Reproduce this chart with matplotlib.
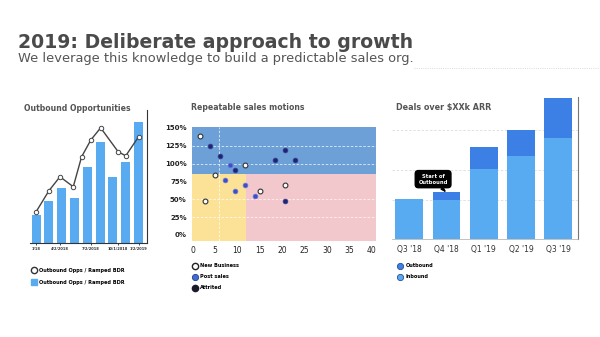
import numpy as np
import matplotlib.pyplot as plt
from matplotlib.lines import Line2D

# left panel: outbound opportunities
opp_bars = [28, 42, 55, 45, 76, 101, 66, 81, 121]
ratio_x = [0, 1, 1.86, 2.9, 3.55, 4.28, 5.04, 6.41, 7, 8]
ratio_y = [31, 52, 66, 56, 86, 103, 115, 91, 87, 106]
opp_ticks = [0, 1.86, 4.28, 6.41, 8]
opp_ticklabels = ['1/18', '4/2/2018', '7/2/2018', '10/1/2018', '1/2/2019']

# middle panel: repeatable sales motions (x, pct)
new_x = [1.7, 11.7, 5.0, 15.0, 2.8, 20.6]
new_y = [139, 98, 84, 62, 48, 70]
post_x = [8.3, 7.2, 11.7, 9.5, 13.9]
post_y = [98, 77, 70, 62, 55]
attr_x = [3.9, 6.1, 9.5, 18.4, 20.6, 22.8, 20.6]
attr_y = [125, 111, 91, 105, 119, 105, 48]
pct_ticks = [0, 25, 50, 75, 100, 125, 150]
x_ticks = [0, 5, 10, 15, 20, 25, 30, 35, 40]

# right panel: deals over $XXk ARR
quarters = ["Q3 '18", "Q4 '18", "Q1 '19", "Q2 '19", "Q3 '19"]
inbound = [40, 39, 70, 83, 101]
outbound = [0, 8, 22, 26, 40]

light = '#58abf0'
dark_blue = '#3c80e6'
txt = '#4a4a4a'

fig = plt.figure(figsize=(6, 3.37), dpi=100)
fig.patch.set_facecolor('white')

fig.text(0.03, 0.858, '2019: Deliberate approach to growth', fontsize=13.6,
         fontweight='bold', color=txt, va='baseline')
fig.text(0.03, 0.815, 'We leverage this knowledge to build a predictable sales org.',
         fontsize=9.4, color='#555555', va='baseline')
fig.add_artist(Line2D([0.69, 1.0], [0.798, 0.798], color='#cccccc', lw=0.6,
                      ls=':', transform=fig.transFigure))

# ---- left
ax1 = fig.add_axes([0.05, 0.28, 0.195, 0.394])
idx = np.arange(len(opp_bars))
ax1.bar(idx, opp_bars, width=0.7, color=light, zorder=2)
ax1.plot(ratio_x, ratio_y, color='#444444', lw=1, marker='o', ms=3.2,
         mfc='white', mec='#444444', mew=0.7, zorder=3)
ax1.set_xlim(-0.48, 8.66)
ax1.set_ylim(0, 133)
for s in ['top', 'left']:
    ax1.spines[s].set_visible(False)
ax1.spines['bottom'].set_color('#333333')
ax1.spines['right'].set_color('#333333')
ax1.set_yticks([])
ax1.set_xticks(opp_ticks)
ax1.set_xticklabels(opp_ticklabels, fontsize=2.6, fontweight='bold', color='#333333')
ax1.tick_params(axis='x', length=1.5, width=0.5, pad=1.5)
ax1.text(-0.05, 0.994, 'Outbound Opportunities', transform=ax1.transAxes,
         fontsize=5.6, fontweight='bold', color='#555555', va='baseline')
lh1 = Line2D([], [], color='none', marker='o', ms=4.5, mfc='white', mec='#333333', mew=1)
lh2 = Line2D([], [], color='none', marker='s', ms=4.5, mfc=light, mec=light)
ax1.legend([lh1, lh2], ['Outbound Opps / Ramped BDR'] * 2, loc='upper left',
           bbox_to_anchor=(0.048, 0.212), bbox_transform=fig.transFigure,
           frameon=False, prop={'size': 3.6, 'weight': 'bold'}, handlelength=1,
           handletextpad=0.6, labelspacing=1.4, borderpad=0)

# ---- middle
ax2 = fig.add_axes([0.3205, 0.2858, 0.306, 0.3365])
ax2.set_xlim(-0.05, 40.9)
ax2.set_ylim(-8, 151)
ax2.axhspan(85, 151, color='#6ca0d6', zorder=0, lw=0)
ax2.fill_between([-0.05, 12], -8, 85, color='#fce296', zorder=0, lw=0)
ax2.fill_between([12, 40.9], -8, 85, color='#f2c8cc', zorder=0, lw=0)
for yv in [25, 50, 100, 125]:
    ax2.axhline(yv, color='white', lw=0.6, ls=(0, (3, 2)), alpha=0.8, zorder=1)
ax2.axvline(5.8, color='white', lw=0.6, ls=(0, (3, 2)), alpha=0.8, zorder=1)
ax2.scatter(new_x, new_y, s=12, c='white', edgecolors='#333333', linewidths=0.8, zorder=3)
ax2.scatter(post_x, post_y, s=12, c='#3d4fc8', edgecolors='#6d7ad8', linewidths=0.5, zorder=3)
ax2.scatter(attr_x, attr_y, s=12, c='#1e2575', edgecolors='#3a4090', linewidths=0.5, zorder=3)
for s in ax2.spines.values():
    s.set_visible(False)
ax2.set_yticks(pct_ticks)
ax2.set_yticklabels([f'{v}%' for v in pct_ticks], fontsize=5, fontweight='bold', color='#222222')
ax2.set_xticks(x_ticks)
ax2.set_xticklabels([str(v) for v in x_ticks], fontsize=5.5, color='#222222')
ax2.tick_params(length=0, pad=4)
ax2.text(-0.005, 1.15, 'Repeatable sales motions', transform=ax2.transAxes,
         fontsize=5.6, fontweight='bold', color='#555555', va='baseline')
mh1 = Line2D([], [], color='none', marker='o', ms=4.5, mfc='white', mec='#222222', mew=1)
mh2 = Line2D([], [], color='none', marker='o', ms=4.5, mfc='#3d6fd0', mec='#2a3a90', mew=0.6)
mh3 = Line2D([], [], color='none', marker='o', ms=4.5, mfc='#1a1a2a', mec='#1a1a2a')
ax2.legend([mh1, mh2, mh3], ['New Business', 'Post sales', 'Attrited'], loc='upper left',
           bbox_to_anchor=(0.316, 0.226), bbox_transform=fig.transFigure,
           frameon=False, prop={'size': 3.6, 'weight': 'bold'}, handlelength=1,
           handletextpad=0.6, labelspacing=1.2, borderpad=0)

# ---- right
ax3 = fig.add_axes([0.653, 0.29, 0.31, 0.4223])
q = np.arange(len(quarters))
ax3.bar(q, inbound, width=0.75, color=light, zorder=2)
ax3.bar(q, outbound, bottom=inbound, width=0.75, color=dark_blue, zorder=2)
ax3.set_xlim(-0.47, 4.53)
ax3.set_ylim(0, 142)
ax3.set_yticks([39, 69, 109])
ax3.yaxis.grid(True, color='#dddddd', lw=0.6, ls=(0, (3, 2)), zorder=0)
ax3.set_yticklabels([])
ax3.set_xticks(q)
ax3.set_xticklabels(quarters, fontsize=5.5, color='#333333')
ax3.tick_params(length=0, pad=4)
for s in ['top', 'left']:
    ax3.spines[s].set_visible(False)
ax3.spines['right'].set_color('#777777')
ax3.spines['bottom'].set_color('#aaaaaa')
ax3.spines['right'].set_linewidth(0.8)
ax3.spines['bottom'].set_linewidth(0.5)
ax3.text(0.02, 0.905, 'Deals over \\$XXk ARR', transform=ax3.transAxes,
         fontsize=5.8, fontweight='bold', color='#555555', va='baseline')
ax3.annotate('Start of\nOutbound', xy=(0.96, 48), xytext=(0.64, 60),
             fontsize=3.8, fontweight='bold', color='white', ha='center', va='center',
             bbox=dict(boxstyle='round,pad=0.6', fc='black', ec='black'),
             arrowprops=dict(arrowstyle='wedge,tail_width=0.5', fc='black', ec='black',
                             shrinkA=0, shrinkB=0), zorder=5)
rh1 = Line2D([], [], color='none', marker='o', ms=4.5, mfc=dark_blue, mec='#2a4a90', mew=0.6)
rh2 = Line2D([], [], color='none', marker='o', ms=4.5, mfc=light, mec='#2a4a90', mew=0.6)
ax3.legend([rh1, rh2], ['Outbound', 'Inbound'], loc='upper left',
           bbox_to_anchor=(0.658, 0.226), bbox_transform=fig.transFigure,
           frameon=False, prop={'size': 3.6, 'weight': 'bold'}, handlelength=1,
           handletextpad=0.6, labelspacing=1.2, borderpad=0)

fig.savefig('out.png', dpi=100)
